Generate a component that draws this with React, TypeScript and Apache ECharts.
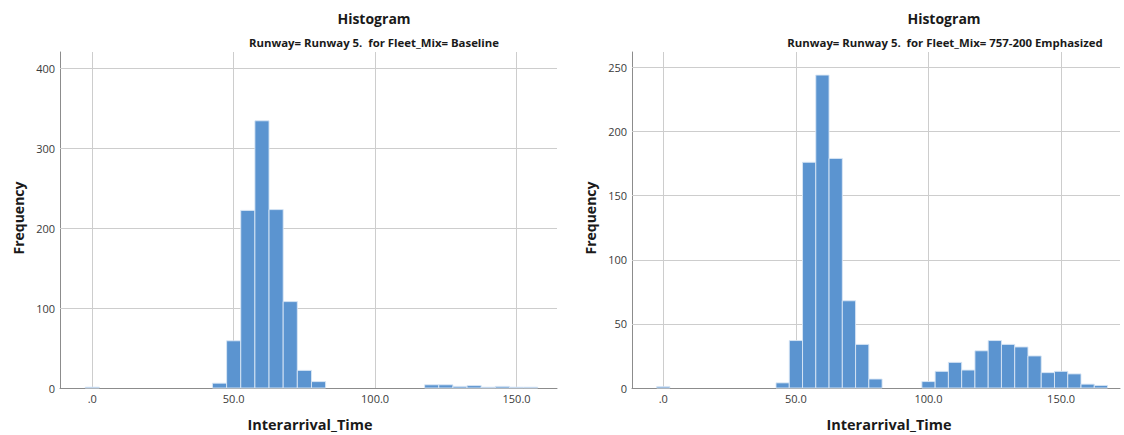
import React, { useEffect, useRef } from "react";
import * as echarts from "echarts";

const binWidth = 5;

const baselineBinCenters = [0, 45, 50, 55, 60, 65, 70, 75, 80, 120, 125, 130, 135, 140, 145, 150, 155];
const baselineCounts = [1, 6, 59, 222, 334, 223, 108, 22, 8, 4, 4, 2, 3, 1, 2, 1, 1];

const emphBinCenters = [0, 45, 50, 55, 60, 65, 70, 75, 80, 100, 105, 110, 115, 120, 125, 130, 135, 140, 145, 150, 155, 160, 165];
const emphCounts = [1, 4, 37, 176, 244, 179, 68, 34, 7, 5, 13, 20, 14, 29, 37, 34, 32, 25, 12, 13, 11, 3, 2];

const xTickValues = [0, 50, 100, 150];
const leftYTicks = [0, 100, 200, 300, 400];
const rightYTicks = [0, 50, 100, 150, 200, 250];

const mainTitle = "Histogram";
const leftSubtitle = "Runway= Runway 5.  for Fleet_Mix= Baseline";
const rightSubtitle = "Runway= Runway 5.  for Fleet_Mix= 757-200 Emphasized";
const xName = "Interarrival_Time";
const yName = "Frequency";

const FONT = "'Open Sans', 'DejaVu Sans', sans-serif";
const BAR = "#5b94d0";
const GRIDC = "#cdcdcd";
const AXISC = "#8c8c8c";

function toRows(centers: number[], counts: number[]) {
  return centers.map((c, i) => [c - binWidth / 2, c + binWidth / 2, counts[i]]);
}

const renderBar = (params: any, api: any) => {
  const s = api.value(0);
  const e = api.value(1);
  const v = api.value(2);
  const p1 = api.coord([s, v]);
  const p2 = api.coord([e, 0]);
  return {
    type: "rect",
    shape: { x: p1[0], y: p1[1], width: p2[0] - p1[0], height: p2[1] - p1[1] },
    style: { fill: BAR, stroke: "#d9e6f5", lineWidth: 0.9 },
  };
};

function xFmt(v: number) {
  return v === 0 ? ".0" : v.toFixed(1);
}

export default function App() {
  const ref = useRef<HTMLDivElement>(null);
  useEffect(() => {
    if (!ref.current) return;
    const chart = echarts.init(ref.current, undefined, { renderer: "svg" });
    const axisLabelStyle = { color: "#3a3a3a", fontSize: 11, fontFamily: FONT };
    const mkX = (idx: number, min: number, max: number) => ({
      type: "value",
      gridIndex: idx,
      min,
      max,
      axisLine: { show: true, onZero: false, lineStyle: { color: AXISC, width: 1 } },
      axisTick: { show: false },
      splitLine: { show: false },
      axisLabel: { ...axisLabelStyle, margin: 5, customValues: xTickValues, formatter: (v: number) => xFmt(v) },
    });
    const mkY = (idx: number, max: number, ticks: number[]) => ({
      type: "value",
      gridIndex: idx,
      min: 0,
      max,
      axisLine: { show: true, onZero: false, lineStyle: { color: AXISC, width: 1 } },
      axisTick: { show: false },
      splitLine: { show: false },
      axisLabel: { ...axisLabelStyle, margin: 5, customValues: ticks },
    });
    const mkSeries = (idx: number, rows: number[][], yTicks: number[]) => ({
      type: "custom",
      xAxisIndex: idx,
      yAxisIndex: idx,
      z: 10,
      renderItem: renderBar,
      encode: { x: [0, 1], y: 2 },
      data: rows,
      markLine: {
        silent: true,
        z: 1,
        symbol: "none",
        label: { show: false },
        lineStyle: { color: GRIDC, width: 1, type: "solid" },
        data: [
          ...xTickValues.map((v) => ({ xAxis: v })),
          ...yTicks.filter((v) => v > 0).map((v) => ({ yAxis: v })),
        ],
      },
    });
    const txt = (x: number, y: number, text: string, size: number, rot = 0) => ({
      type: "text",
      x,
      y,
      rotation: rot,
      style: {
        text,
        fill: "#1a1a1a",
        font: `bold ${size}px ${FONT}`,
        textAlign: "center",
        textVerticalAlign: "middle",
      },
    });
    chart.setOption({
      animation: false,
      backgroundColor: "#fff",
      grid: [
        { left: 60, top: 52, width: 497, height: 336 },
        { left: 632, top: 52, width: 488, height: 336 },
      ],
      xAxis: [mkX(0, -11.4, 164.3), mkX(1, -11.8, 172.2)],
      yAxis: [mkY(0, 420, leftYTicks), mkY(1, 262, rightYTicks)],
      series: [
        mkSeries(0, toRows(baselineBinCenters, baselineCounts), leftYTicks),
        mkSeries(1, toRows(emphBinCenters, emphCounts), rightYTicks),
      ],
      graphic: [
        txt(374, 18, mainTitle, 14),
        txt(374, 42, leftSubtitle, 11.4),
        txt(944, 18, mainTitle, 14),
        txt(945, 42, rightSubtitle, 11.4),
        txt(18, 218, yName, 14, Math.PI / 2),
        txt(590, 218, yName, 14, Math.PI / 2),
        txt(310, 424, xName, 14.5),
        txt(889, 424, xName, 14.5),
      ],
    });
    return () => chart.dispose();
  }, []);
  return (
    <div
      ref={ref}
      style={{ position: "absolute", left: 0, top: 0, width: 1124, height: 435 }}
    />
  );
}
